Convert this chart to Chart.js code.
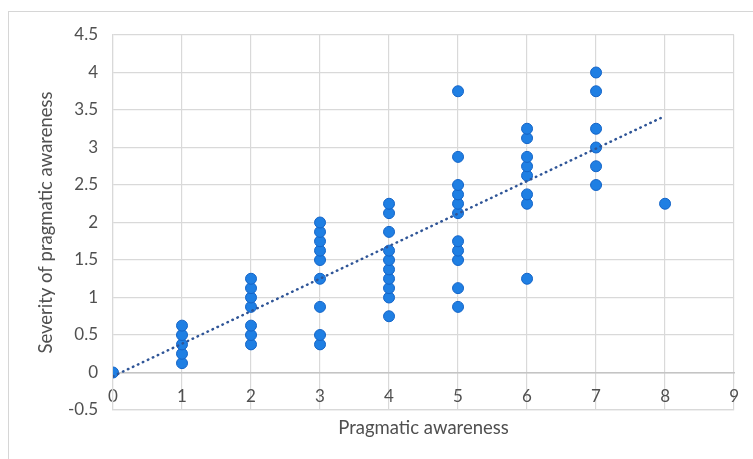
<!DOCTYPE html>
<html>
<head>
<meta charset="utf-8">
<script src="https://cdn.jsdelivr.net/npm/chart.js@4/dist/chart.umd.min.js"></script>
<style>
  html, body { margin: 0; padding: 0; background: #fff; }
  #wrap { position: relative; width: 753px; height: 459px; overflow: hidden; }
  #frame { position: absolute; left: 8px; top: 11px; width: 800px; height: 500px;
           border-left: 1.5px solid #d6d6d6; border-top: 1.5px solid #d6d6d6; }
  canvas { position: absolute; left: 0; top: 0; }
</style>
</head>
<body>
<div id="wrap">
  <div id="frame"></div>
  <canvas id="c" width="753" height="459"></canvas>
</div>
<script>
// Pragmatic awareness scores (x) and the severity values observed at each score (y)
const awarenessScores = [0, 1, 2, 3, 4, 5, 6, 7, 8];
const severityAt0 = [0];
const severityAt1 = [0.125, 0.25, 0.375, 0.5, 0.625];
const severityAt2 = [0.375, 0.5, 0.625, 0.875, 1.0, 1.125, 1.25];
const severityAt3 = [0.375, 0.5, 0.875, 1.25, 1.5, 1.625, 1.75, 1.875, 2.0];
const severityAt4 = [0.75, 1.0, 1.125, 1.25, 1.375, 1.5, 1.625, 1.875, 2.125, 2.25];
const severityAt5 = [0.875, 1.125, 1.5, 1.625, 1.75, 2.125, 2.25, 2.375, 2.5, 2.875, 3.75];
const severityAt6 = [1.25, 2.25, 2.375, 2.625, 2.75, 2.875, 3.125, 3.25];
const severityAt7 = [2.5, 2.75, 3.0, 3.25, 3.75, 4.0];
const severityAt8 = [2.25];
const severityLists = [severityAt0, severityAt1, severityAt2, severityAt3, severityAt4,
                       severityAt5, severityAt6, severityAt7, severityAt8];

// Linear trendline endpoints
const trendX = [0, 8];
const trendY = [-0.05, 3.42];

// Axis tick values
const xTicks = [0, 1, 2, 3, 4, 5, 6, 7, 8, 9];
const yTicks = [-0.5, 0, 0.5, 1, 1.5, 2, 2.5, 3, 3.5, 4, 4.5];

const xTitle = 'Pragmatic awareness';
const yTitle = 'Severity of pragmatic awareness';

const points = [];
awarenessScores.forEach((s, i) => severityLists[i].forEach(v => points.push({ x: s, y: v })));
const trendPoints = trendX.map((x, i) => ({ x: x, y: trendY[i] }));

const FONT = 'Lato, "Open Sans", "DejaVu Sans", sans-serif';
const TXT = '#505050';
const GRID = '#d9d9d9';

new Chart(document.getElementById('c'), {
  type: 'scatter',
  data: {
    datasets: [
      {
        label: 'Trend',
        data: trendPoints,
        showLine: true,
        order: 0,
        pointRadius: 0,
        borderColor: '#2f5597',
        borderWidth: 2.5,
        borderDash: [0.5, 5],
        borderCapStyle: 'round',
        fill: false
      },
      {
        label: 'Data',
        data: points,
        order: 1,
        pointRadius: 5.5,
        pointBackgroundColor: '#1f7fe3',
        pointBorderColor: '#1565c8',
        pointBorderWidth: 1
      }
    ]
  },
  options: {
    responsive: false,
    animation: false,
    events: [],
    layout: { padding: { top: 35, right: 18, left: 0, bottom: 0 } },
    plugins: { legend: { display: false }, tooltip: { enabled: false } },
    scales: {
      x: {
        type: 'linear',
        position: 'bottom',
        min: 0, max: 9,
        afterBuildTicks: (ax) => { ax.ticks = xTicks.map(v => ({ value: v })); },
        afterFit: (ax) => { ax.height = 49; },
        ticks: { display: false },
        grid: { color: GRID, lineWidth: 1.2, drawTicks: false },
        border: { color: GRID, width: 1.2 },
        title: {
          display: true, text: xTitle, color: TXT,
          font: { family: FONT, size: 18.5 },
          padding: { top: 0, bottom: 20 }
        }
      },
      x2: {
        type: 'linear',
        axis: 'x',
        position: { y: 0 },
        min: 0, max: 9,
        afterBuildTicks: (ax) => { ax.ticks = xTicks.map(v => ({ value: v })); },
        grid: { display: false, drawTicks: false },
        border: { display: true, color: '#c4c4c4', width: 1.5 },
        ticks: { color: TXT, font: { family: FONT, size: 17 }, padding: 14, maxRotation: 0,
                 callback: (v) => String(v) }
      },
      y: {
        type: 'linear',
        min: -0.5, max: 4.5,
        afterBuildTicks: (ax) => { ax.ticks = yTicks.map(v => ({ value: v })); },
        afterFit: (ax) => { ax.width = 113; },
        ticks: { color: TXT, font: { family: FONT, size: 17 }, padding: 15,
                 callback: (v) => String(v) },
        grid: { color: GRID, lineWidth: 1.2, drawTicks: false },
        border: { color: GRID, width: 1.2 },
        title: {
          display: true, text: yTitle, color: TXT,
          font: { family: FONT, size: 18.5 },
          padding: { top: 35, bottom: 0 }
        }
      }
    }
  }
});
</script>
</body>
</html>
